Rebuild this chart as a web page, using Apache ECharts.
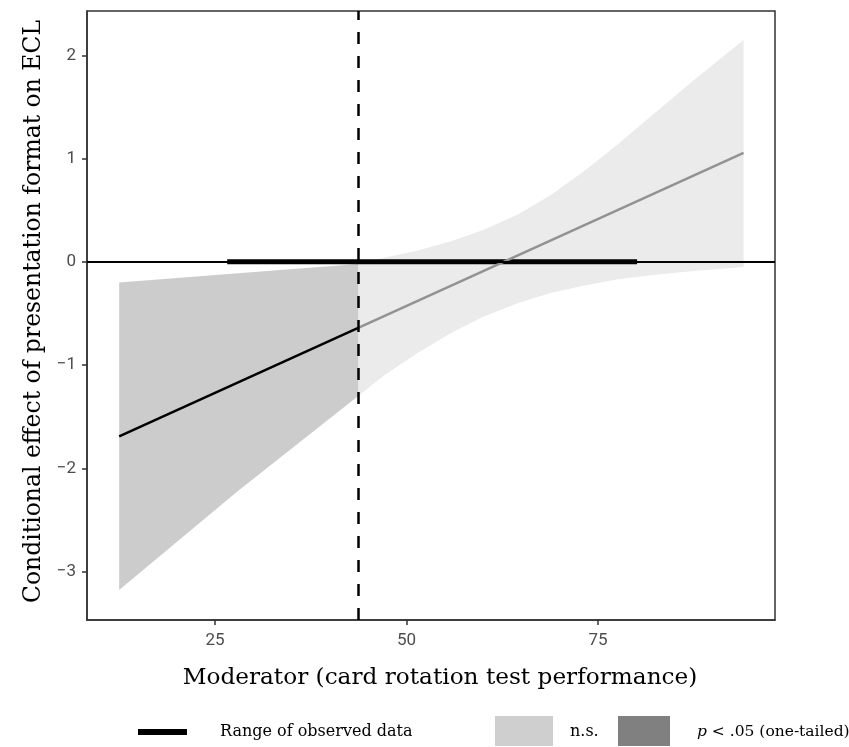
<!DOCTYPE html>
<html>
<head>
<meta charset="utf-8">
<script src="https://cdn.jsdelivr.net/npm/echarts@6/dist/echarts.min.js"></script>
</head>
<body style="margin:0;background:#fff">
<div id="main" style="width:849px;height:747px"></div>
<script>
// moderator values and bounds
var sigX = [12.5, 28, 43.7];
var sigUpper = [-0.20, -0.11, -0.02];
var sigLower = [-3.18, -2.22, -1.30];

var nsX = [43.7, 47.1, 51.5, 55.8, 60.1, 64.6, 68.9, 73.2, 77.6, 81.9, 87.5, 94.0];
var nsUpper = [-0.02, 0.04, 0.11, 0.20, 0.31, 0.46, 0.65, 0.88, 1.14, 1.41, 1.76, 2.15];
var nsLower = [-1.30, -1.10, -0.88, -0.69, -0.53, -0.40, -0.30, -0.23, -0.17, -0.13, -0.09, -0.05];

var sigLineX = [12.5, 43.7];
var sigLineY = [-1.69, -0.64];
var nsLineX = [43.7, 94.0];
var nsLineY = [-0.64, 1.055];

var observedRange = [26.6, 80.1];
var jnPoint = 43.7;

var xTicks = [25, 50, 75];
var yTicks = [-3, -2, -1, 0, 1, 2];

function pairs(xs, ys) {
    return xs.map(function (x, i) { return [x, ys[i]]; });
}

// polygon through upper bound then lower bound reversed
function bandRenderer(xs, up, lo) {
    return function (params, api) {
        if (params.dataIndex !== 0) return;
        var pts = [];
        for (var i = 0; i < xs.length; i++) pts.push(api.coord([xs[i], up[i]]));
        for (var j = xs.length - 1; j >= 0; j--) pts.push(api.coord([xs[j], lo[j]]));
        return {
            type: 'polygon',
            shape: { points: pts },
            style: { fill: api.visual('color') }
        };
    };
}

var chart = echarts.init(document.getElementById('main'), null, { renderer: 'canvas' });

var serif = 'DejaVu Serif';

var option = {
    animation: false,
    grid: {
        left: 87, right: 74, top: 11, bottom: 127,
        show: true, borderColor: '#333', borderWidth: 1.5, backgroundColor: 'transparent'
    },
    xAxis: {
        type: 'value', min: 8.3, max: 98.1,
        name: 'Moderator (card rotation test performance)',
        nameLocation: 'middle', nameGap: 46,
        nameTextStyle: { fontFamily: serif, fontSize: 23.2, color: '#000', padding: [0, 0, 0, 18] },
        axisLine: { show: true, onZero: false, lineStyle: { color: '#333', width: 1.5 } },
        axisTick: { show: true, customValues: xTicks, length: 5, lineStyle: { color: '#333', width: 1.5 } },
        axisLabel: { customValues: xTicks, margin: 12, fontFamily: 'Roboto', fontSize: 17, color: '#4d4d4d' },
        splitLine: { show: false }
    },
    yAxis: {
        type: 'value', min: -3.47, max: 2.43,
        name: 'Conditional effect of presentation format on ECL',
        nameLocation: 'middle', nameGap: 40,
        nameTextStyle: { fontFamily: serif, fontSize: 23.5, color: '#000', padding: [0, 0, 0, 8] },
        axisLine: { show: true, onZero: false, lineStyle: { color: '#333', width: 1.5 } },
        axisTick: { show: true, customValues: yTicks, length: 5, lineStyle: { color: '#333', width: 1.5 } },
        axisLabel: {
            customValues: yTicks, margin: 11, fontFamily: 'Roboto', fontSize: 17, color: '#4d4d4d',
            formatter: function (v) { return String(v).replace('-', '\u2212'); }
        },
        splitLine: { show: false }
    },
    series: [
        {
            name: 'n.s. band', type: 'custom', z: 1, silent: true,
            itemStyle: { color: '#ebebeb' },
            renderItem: bandRenderer(nsX, nsUpper, nsLower),
            data: pairs(nsX, nsUpper)
        },
        {
            name: 'sig band', type: 'custom', z: 1, silent: true,
            itemStyle: { color: '#cccccc' },
            renderItem: bandRenderer(sigX, sigUpper, sigLower),
            data: pairs(sigX, sigUpper)
        },
        {
            name: 'zero', type: 'line', z: 2, data: [], silent: true,
            markLine: {
                silent: true, symbol: 'none', label: { show: false },
                lineStyle: { color: '#000', width: 2, type: 'solid' },
                data: [{ yAxis: 0 }]
            }
        },
        {
            name: 'Range of observed data', type: 'line', z: 3, showSymbol: false,
            lineStyle: { color: '#000', width: 5 },
            data: [[observedRange[0], 0], [observedRange[1], 0]]
        },
        {
            name: 'effect ns', type: 'line', z: 4, showSymbol: false,
            lineStyle: { color: '#929292', width: 2.5 },
            data: pairs(nsLineX, nsLineY)
        },
        {
            name: 'effect sig', type: 'line', z: 4, showSymbol: false,
            lineStyle: { color: '#000', width: 2.5 },
            data: pairs(sigLineX, sigLineY)
        },
        {
            name: 'jn', type: 'line', z: 5, data: [], silent: true,
            markLine: {
                silent: true, symbol: 'none', label: { show: false },
                lineStyle: { color: '#000', width: 2.5, type: [12, 12] },
                data: [{ xAxis: jnPoint }]
            }
        }
    ],
    graphic: [
        { type: 'line', shape: { x1: 138, y1: 732, x2: 187, y2: 732 }, style: { stroke: '#000', lineWidth: 6 } },
        { type: 'text', x: 220, y: 732, style: { text: 'Range of observed data', fontFamily: serif, fontSize: 16, fill: '#000', verticalAlign: 'middle' } },
        { type: 'rect', shape: { x: 495, y: 716, width: 58, height: 30 }, style: { fill: '#cfcfcf' } },
        { type: 'text', x: 570, y: 732, style: { text: 'n.s.', fontFamily: serif, fontSize: 16, fill: '#000', verticalAlign: 'middle' } },
        { type: 'rect', shape: { x: 618, y: 716, width: 52, height: 30 }, style: { fill: '#808080' } },
        {
            type: 'text', x: 697, y: 732,
            style: {
                text: '{i|p} < .05 (one-tailed)', fontFamily: serif, fontSize: 15.5, fill: '#000', verticalAlign: 'middle',
                rich: { i: { fontStyle: 'italic', fontFamily: serif, fontSize: 15.5 } }
            }
        }
    ]
};

chart.setOption(option);
</script>
</body>
</html>
